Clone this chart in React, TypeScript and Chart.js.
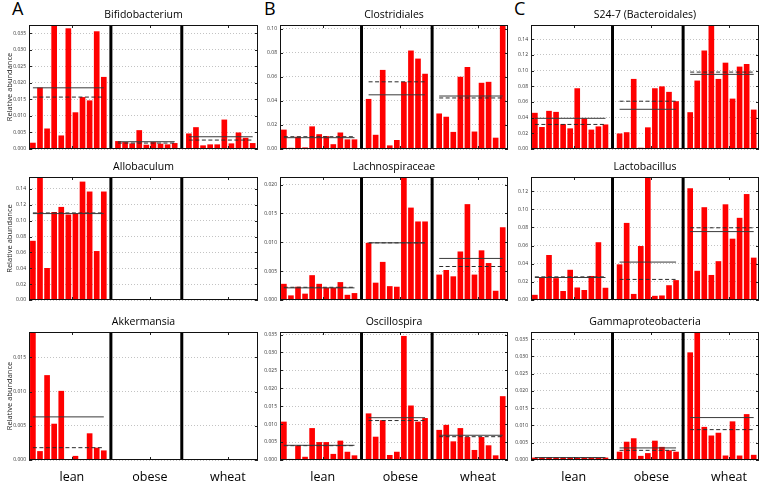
import React, { useEffect, useRef } from "react";
import { Chart, registerables } from "chart.js";

Chart.register(...registerables);

// ---------- shared structure ----------
const groupNames = ["lean", "obese", "wheat"];
const groupSizes = [11, 9, 10];
const xTickPositions = [5.5, 16.5, 27.5];

// ---------- Bifidobacterium ----------
const bifidoLean = [0.0019, 0.0186, 0.0062, 0.039, 0.0041, 0.0365, 0.0111, 0.0157, 0.0147, 0.0356, 0.0218];
const bifidoObese = [0.0024, 0.0021, 0.0017, 0.0057, 0.0013, 0.0021, 0.0016, 0.0014, 0.0018];
const bifidoWheat = [0.0047, 0.0066, 0.0011, 0.0014, 0.0014, 0.0089, 0.0017, 0.005, 0.0034, 0.0018];
const bifidoMean = [0.0185, 0.0022, 0.0037];
const bifidoMedian = [0.0157, 0.0018, 0.0027];
const bifidoTicks = [0, 0.005, 0.01, 0.015, 0.02, 0.025, 0.03, 0.035];

// ---------- Clostridiales ----------
const clostLean = [0.0161, 0.001, 0.0102, 0.0013, 0.0188, 0.0123, 0.0107, 0.004, 0.0137, 0.008, 0.008];
const clostObese = [0.0416, 0.0118, 0.0657, 0.003, 0.0075, 0.0558, 0.0818, 0.0751, 0.0625];
const clostWheat = [0.0295, 0.0268, 0.0142, 0.06, 0.0681, 0.0145, 0.055, 0.0558, 0.0094, 0.107];
const clostMean = [0.0094, 0.045, 0.044];
const clostMedian = [0.0102, 0.0558, 0.0424];
const clostTicks = [0, 0.02, 0.04, 0.06, 0.08, 0.1];

// ---------- S24-7 (Bacteroidales) ----------
const s247Lean = [0.0461, 0.028, 0.0486, 0.0473, 0.0317, 0.0263, 0.0774, 0.0391, 0.0247, 0.0288, 0.0313];
const s247Obese = [0.0198, 0.0214, 0.0893, 0.0016, 0.0276, 0.0774, 0.0798, 0.0728, 0.0609];
const s247Wheat = [0.0469, 0.0872, 0.1255, 0.164, 0.0893, 0.11, 0.0642, 0.105, 0.1083, 0.0502];
const s247Mean = [0.0391, 0.0506, 0.0951];
const s247Median = [0.0313, 0.0609, 0.098];
const s247Ticks = [0, 0.02, 0.04, 0.06, 0.08, 0.1, 0.12, 0.14];

// ---------- Allobaculum ----------
const alloLean = [0.0746, 0.158, 0.0403, 0.1109, 0.1173, 0.1077, 0.1093, 0.1492, 0.1367, 0.0617, 0.1367];
const alloObese = [0, 0, 0, 0, 0, 0, 0, 0, 0];
const alloWheat = [0, 0, 0, 0, 0, 0, 0, 0, 0, 0];
const alloMean = [0.1089, 0, 0];
const alloMedian = [0.1097, 0, 0];
const alloTicks = [0, 0.02, 0.04, 0.06, 0.08, 0.1, 0.12, 0.14];

// ---------- Lachnospiraceae ----------
const lachnoLean = [0.0028, 0.0008, 0.0023, 0.0011, 0.0043, 0.0028, 0.0021, 0.0021, 0.0031, 0.0009, 0.0012];
const lachnoObese = [0.0099, 0.003, 0.0066, 0.0024, 0.0023, 0.0218, 0.016, 0.0136, 0.0136];
const lachnoWheat = [0.0044, 0.0052, 0.0041, 0.0084, 0.0166, 0.0044, 0.0086, 0.0064, 0.0016, 0.0126];
const lachnoMean = [0.0021, 0.0099, 0.0072];
const lachnoMedian = [0.0022, 0.0099, 0.0058];
const lachnoTicks = [0, 0.005, 0.01, 0.015, 0.02];

// ---------- Lactobacillus ----------
const lactoLean = [0.0057, 0.0248, 0.0496, 0.0241, 0.0099, 0.0333, 0.0138, 0.011, 0.0265, 0.0637, 0.0135];
const lactoObese = [0.0393, 0.085, 0.0067, 0.0595, 0.138, 0.0046, 0.005, 0.0163, 0.0219];
const lactoWheat = [0.1232, 0.0322, 0.1023, 0.0276, 0.0428, 0.1055, 0.0676, 0.0906, 0.1168, 0.0467];
const lactoMean = [0.0248, 0.0418, 0.0754];
const lactoMedian = [0.0255, 0.0227, 0.0796];
const lactoTicks = [0, 0.02, 0.04, 0.06, 0.08, 0.1, 0.12];

// ---------- Akkermansia ----------
const akkerLean = [0.032, 0.0013, 0.0124, 0.0053, 0.0101, 0.0001, 0.0006, 0, 0.0039, 0.0018, 0.0014];
const akkerObese = [0, 0, 0, 0, 0, 0, 0, 0, 0.0001];
const akkerWheat = [0, 0, 0, 0, 0.0001, 0, 0.0001, 0, 0, 0];
const akkerMean = [0.0063, 0, 0];
const akkerMedian = [0.0018, 0, 0];
const akkerTicks = [0, 0.005, 0.01, 0.015];

// ---------- Oscillospira ----------
const osciLean = [0.0107, 0.0003, 0.004, 0.0009, 0.0089, 0.005, 0.005, 0.0017, 0.0054, 0.0023, 0.0013];
const osciObese = [0.013, 0.0065, 0.0111, 0.0014, 0.0023, 0.0346, 0.0152, 0.0107, 0.0117];
const osciWheat = [0.0084, 0.0098, 0.0052, 0.0089, 0.0064, 0.0028, 0.0064, 0.0041, 0.0013, 0.0178];
const osciMean = [0.0041, 0.0118, 0.0069];
const osciMedian = [0.004, 0.011, 0.0065];
const osciTicks = [0, 0.005, 0.01, 0.015, 0.02, 0.025, 0.03, 0.035];

// ---------- Gammaproteobacteria ----------
const gammaLean = [0.0007, 0.0008, 0.0008, 0.0007, 0.0007, 0.0007, 0.0007, 0.0007, 0.0007, 0.0007, 0.0007];
const gammaObese = [0.0024, 0.0053, 0.0063, 0.0012, 0.002, 0.0056, 0.0038, 0.0028, 0.0024];
const gammaWheat = [0.0312, 0.0386, 0.0096, 0.0071, 0.0079, 0.0013, 0.0112, 0.0013, 0.0133, 0.0015];
const gammaMean = [0.0007, 0.0035, 0.0123];
const gammaMedian = [0.0007, 0.0028, 0.0088];
const gammaTicks = [0, 0.005, 0.01, 0.015, 0.02, 0.025, 0.03, 0.035];

type PanelSpec = {
  title: string;
  groups: number[][];
  mean: number[];
  median: number[];
  ticks: number[];
  yMax: number;
  decimals: number;
};

const panels: PanelSpec[] = [
  { title: "Bifidobacterium", groups: [bifidoLean, bifidoObese, bifidoWheat], mean: bifidoMean, median: bifidoMedian, ticks: bifidoTicks, yMax: 0.0375, decimals: 3 },
  { title: "Clostridiales", groups: [clostLean, clostObese, clostWheat], mean: clostMean, median: clostMedian, ticks: clostTicks, yMax: 0.103, decimals: 2 },
  { title: "S24-7 (Bacteroidales)", groups: [s247Lean, s247Obese, s247Wheat], mean: s247Mean, median: s247Median, ticks: s247Ticks, yMax: 0.158, decimals: 2 },
  { title: "Allobaculum", groups: [alloLean, alloObese, alloWheat], mean: alloMean, median: alloMedian, ticks: alloTicks, yMax: 0.155, decimals: 2 },
  { title: "Lachnospiraceae", groups: [lachnoLean, lachnoObese, lachnoWheat], mean: lachnoMean, median: lachnoMedian, ticks: lachnoTicks, yMax: 0.0213, decimals: 3 },
  { title: "Lactobacillus", groups: [lactoLean, lactoObese, lactoWheat], mean: lactoMean, median: lactoMedian, ticks: lactoTicks, yMax: 0.1356, decimals: 2 },
  { title: "Akkermansia", groups: [akkerLean, akkerObese, akkerWheat], mean: akkerMean, median: akkerMedian, ticks: akkerTicks, yMax: 0.0187, decimals: 3 },
  { title: "Oscillospira", groups: [osciLean, osciObese, osciWheat], mean: osciMean, median: osciMedian, ticks: osciTicks, yMax: 0.0357, decimals: 3 },
  { title: "Gammaproteobacteria", groups: [gammaLean, gammaObese, gammaWheat], mean: gammaMean, median: gammaMedian, ticks: gammaTicks, yMax: 0.0371, decimals: 3 },
];

// ---------- layout ----------
const COL_LEFT = [29, 280, 531];
const COL_RIGHT = [258, 508, 759];
const ROW_TOP = [25, 177, 332];
const ROW_BOTTOM = [153, 304, 460];
const AXIS_W = 29;
const TITLE_H = 18;
const PAD_R = 4;
const FONT = "'Open Sans', 'DejaVu Sans', sans-serif";

// positions: one empty slot between groups, separators placed in those slots
function buildPositions() {
  const xs: number[][] = [];
  const seps: number[] = [];
  let start = 0;
  groupSizes.forEach((n, g) => {
    xs.push(Array.from({ length: n }, (_, i) => start + i));
    start += n;
    if (g < groupSizes.length - 1) {
      seps.push(start);
      start += 1;
    }
  });
  return { xs, seps, last: start - 1 };
}

const decorPlugin = {
  id: "decor",
  afterDatasetsDraw(chart: any, _args: any, opts: any) {
    const { ctx, chartArea: a, scales } = chart;
    const x = scales.x;
    const y = scales.y;
    ctx.save();
    // group separators
    ctx.strokeStyle = "#000";
    ctx.lineWidth = 3;
    (opts.seps || []).forEach((s: number) => {
      const px = x.getPixelForValue(s);
      ctx.beginPath();
      ctx.moveTo(px, a.top);
      ctx.lineTo(px, a.bottom);
      ctx.stroke();
    });
    // inward tick marks
    ctx.lineWidth = 1;
    ctx.strokeStyle = "#222";
    y.ticks.forEach((t: any) => {
      const py = Math.round(y.getPixelForValue(t.value)) + 0.5;
      ctx.beginPath();
      ctx.moveTo(a.left, py);
      ctx.lineTo(a.left + 3, py);
      ctx.moveTo(a.right - 3, py);
      ctx.lineTo(a.right, py);
      ctx.stroke();
    });
    xTickPositions.forEach((v) => {
      const px = Math.round(x.getPixelForValue(v)) + 0.5;
      ctx.beginPath();
      ctx.moveTo(px, a.top);
      ctx.lineTo(px, a.top + 3);
      ctx.moveTo(px, a.bottom - 3);
      ctx.lineTo(px, a.bottom);
      ctx.stroke();
    });
    // frame
    ctx.strokeStyle = "#111";
    ctx.strokeRect(a.left + 0.5, a.top + 0.5, a.right - a.left - 1, a.bottom - a.top - 1);
    ctx.restore();
  },
};

function Panel({ spec, row, col }: { spec: PanelSpec; row: number; col: number }) {
  const ref = useRef<HTMLCanvasElement | null>(null);
  const isBottom = row === 2;
  const bottomH = isBottom ? 22 : 2;
  const plotW = COL_RIGHT[col] - COL_LEFT[col];
  const plotH = ROW_BOTTOM[row] - ROW_TOP[row];
  const width = AXIS_W + plotW + PAD_R;
  const height = TITLE_H + plotH + bottomH;
  const left = COL_LEFT[col] - AXIS_W;
  const top = ROW_TOP[row] - TITLE_H;

  useEffect(() => {
    if (!ref.current) return;
    const { xs, seps, last } = buildPositions();
    const bars = spec.groups.flatMap((vals, g) => vals.map((v, i) => ({ x: xs[g][i], y: v })));
    const statLine = (stat: number[]) =>
      stat.flatMap((m, g) => {
        const gx = xs[g];
        return [
          { x: gx[0], y: m },
          { x: gx[gx.length - 1], y: m },
          { x: gx[gx.length - 1] + 0.5, y: null },
        ];
      });

    const chart = new Chart(ref.current, {
      type: "bar",
      data: {
        datasets: [
          {
            type: "line",
            data: statLine(spec.mean) as any,
            borderColor: "#3a3a3a",
            borderWidth: 1,
            pointRadius: 0,
            spanGaps: false,
            fill: false,
            order: 0,
          } as any,
          {
            type: "line",
            data: statLine(spec.median) as any,
            borderColor: "#2a2a2a",
            borderWidth: 1,
            borderDash: [4, 2.5],
            pointRadius: 0,
            spanGaps: false,
            fill: false,
            order: 0,
          } as any,
          {
            type: "bar",
            data: bars as any,
            backgroundColor: "#ff0000",
            borderWidth: 0,
            barPercentage: 0.8,
            categoryPercentage: 1,
            order: 2,
          } as any,
        ],
      },
      options: {
        animation: false,
        responsive: false,
        maintainAspectRatio: false,
        events: [],
        layout: { padding: { left: 0, right: PAD_R, top: 0, bottom: 0 } },
        plugins: {
          legend: { display: false },
          tooltip: { enabled: false },
          title: {
            display: true,
            text: spec.title,
            fullSize: false,
            color: "#000",
            font: { family: FONT, size: 10.5, weight: "normal", lineHeight: "12px" } as any,
            padding: { top: 2, bottom: 4 },
          },
          decor: { seps } as any,
        } as any,
        scales: {
          x: {
            type: "linear",
            min: -0.55,
            max: last + 0.75,
            offset: false,
            grid: { display: false, drawTicks: false },
            border: { display: false },
            afterBuildTicks: (s: any) => {
              s.ticks = xTickPositions.map((v) => ({ value: v }));
            },
            afterFit: (s: any) => {
              s.height = bottomH;
            },
            ticks: {
              display: isBottom,
              autoSkip: false,
              maxRotation: 0,
              minRotation: 0,
              padding: 10,
              color: "#000",
              font: { family: FONT, size: 12.5 },
              callback: (_v: any, i: number) => groupNames[i],
            },
          },
          y: {
            type: "linear",
            min: 0,
            max: spec.yMax,
            afterBuildTicks: (s: any) => {
              s.ticks = spec.ticks.map((v) => ({ value: v }));
            },
            afterFit: (s: any) => {
              s.width = AXIS_W;
            },
            grid: { color: "#b4b4b4", lineWidth: 0.8, drawTicks: false },
            border: { display: false, dash: [1, 2] },
            ticks: {
              autoSkip: false,
              padding: 3,
              color: "#333",
              font: { family: FONT, size: 5 },
              callback: (v: any) => Number(v).toFixed(spec.decimals),
            },
            title: {
              display: col === 0,
              text: "Relative abundance",
              color: "#222",
              font: { family: FONT, size: 7.5 },
              padding: { top: 5, bottom: 0 },
            },
          },
        },
      } as any,
      plugins: [decorPlugin as any],
    });
    return () => chart.destroy();
  }, [spec, row, col]);

  return (
    <canvas
      ref={ref}
      width={width}
      height={height}
      style={{ position: "absolute", left, top, width, height }}
    />
  );
}

const letters = [
  { text: "A", left: 12 },
  { text: "B", left: 264 },
  { text: "C", left: 514 },
];

export default function App() {
  return (
    <div
      style={{
        position: "absolute",
        left: 0,
        top: 0,
        width: 762,
        height: 482,
        overflow: "hidden",
        background: "#fff",
      }}
    >
      {letters.map((l) => (
        <div
          key={l.text}
          style={{
            position: "absolute",
            left: l.left,
            top: -1,
            fontFamily: FONT,
            fontSize: 18,
            lineHeight: "18px",
            color: "#000",
          }}
        >
          {l.text}
        </div>
      ))}
      {panels.map((p, i) => (
        <Panel key={p.title} spec={p} row={Math.floor(i / 3)} col={i % 3} />
      ))}
    </div>
  );
}
